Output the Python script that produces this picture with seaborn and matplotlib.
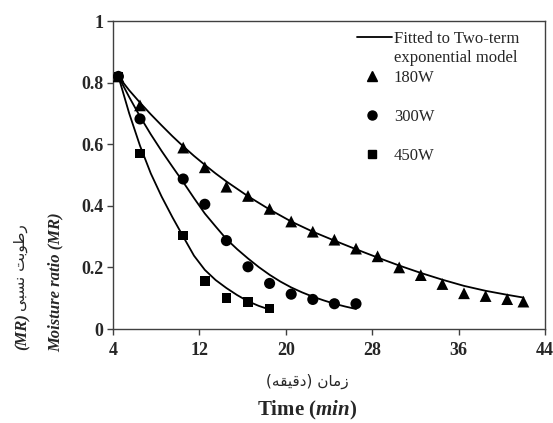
import matplotlib
matplotlib.use("Agg")
import matplotlib.pyplot as plt
from matplotlib.lines import Line2D
import pandas as pd
import seaborn as sns

t_180 = [4.5, 6.5, 10.5, 12.5, 14.5, 16.5, 18.5, 20.5, 22.5, 24.5, 26.5, 28.5,
         30.5, 32.5, 34.5, 36.5, 38.5, 40.5, 42]
mr_180 = [0.82, 0.726, 0.589, 0.525, 0.462, 0.432, 0.390, 0.349, 0.316, 0.290,
          0.261, 0.236, 0.200, 0.175, 0.146, 0.116, 0.107, 0.097, 0.089]
t_300 = [4.5, 6.5, 10.5, 12.5, 14.5, 16.5, 18.5, 20.5, 22.5, 24.5, 26.5]
mr_300 = [0.82, 0.682, 0.487, 0.405, 0.287, 0.202, 0.148, 0.113, 0.096, 0.082, 0.082]
t_450 = [4.5, 6.5, 10.5, 12.5, 14.5, 16.5, 18.5]
mr_450 = [0.82, 0.570, 0.304, 0.155, 0.100, 0.088, 0.067]

# fitted two-term exponential curves
tf_180 = [4.5, 5.5, 6.5, 7.5, 8.5, 9.5, 10.5, 11.5, 12.5, 13.5, 14.5, 16.5, 18.5,
          20.5, 22.5, 24.5, 26.5, 28.5, 30.5, 32.5, 34.5, 36.5, 38.5, 40.5, 42]
mf_180 = [0.82, 0.775, 0.735, 0.697, 0.661, 0.626, 0.593, 0.562, 0.533, 0.505,
          0.479, 0.431, 0.388, 0.349, 0.316, 0.287, 0.259, 0.232, 0.206, 0.182,
          0.160, 0.140, 0.124, 0.111, 0.102]
tf_300 = [4.5, 5.5, 6.5, 7.5, 8.5, 9.5, 10.5, 11.5, 12.5, 13.5, 14.5, 15.5, 16.5,
          17.5, 18.5, 19.5, 20.5, 21.5, 22.5, 23.5, 24.5, 25.5, 26.5]
mf_300 = [0.82, 0.753, 0.69, 0.632, 0.578, 0.527, 0.477, 0.425, 0.375, 0.333,
          0.292, 0.259, 0.229, 0.201, 0.176, 0.154, 0.135, 0.119, 0.105, 0.093,
          0.082, 0.073, 0.065]
tf_450 = [4.5, 5.5, 6.5, 7.5, 8.5, 9.5, 10.5, 11.5, 12.5, 13.5, 14.5, 15.5, 16.5,
          17.5, 18.5]
mf_450 = [0.82, 0.70, 0.595, 0.505, 0.43, 0.363, 0.30, 0.238, 0.192, 0.159, 0.133,
          0.11, 0.09, 0.075, 0.063]

powers = ["180W", "300W", "450W"]
xticks = [4, 12, 20, 28, 36, 44]
yticks = [0, 0.2, 0.4, 0.6, 0.8, 1]
ytick_labels = ["0", "0.2", "0.4", "0.6", "0.8", "1"]

# Persian labels, pre-shaped presentation forms in visual (left-to-right) order
fa_time = "(\ufeea\ufed8\ufef4\ufed7\ufea9) \ufee5\ufe8e\ufee3\ufeaf"          # زمان (دقیقه)
fa_mr = "\ufef0\ufe92\ufeb4\ufee7 \ufe96\ufe91\ufeee\ufec3\ufead"            # رطوبت نسبی

obs = pd.concat([
    pd.DataFrame({"t": t_180, "MR": mr_180, "power": "180W"}),
    pd.DataFrame({"t": t_300, "MR": mr_300, "power": "300W"}),
    pd.DataFrame({"t": t_450, "MR": mr_450, "power": "450W"}),
], ignore_index=True)
fit = pd.concat([
    pd.DataFrame({"t": tf_180, "MR": mf_180, "power": "180W"}),
    pd.DataFrame({"t": tf_300, "MR": mf_300, "power": "300W"}),
    pd.DataFrame({"t": tf_450, "MR": mf_450, "power": "450W"}),
], ignore_index=True)

sns.set_style("ticks")
plt.rcParams["font.family"] = "Liberation Serif"
plt.rcParams["mathtext.fontset"] = "custom"
plt.rcParams["mathtext.rm"] = "Liberation Serif:bold"
plt.rcParams["mathtext.it"] = "Liberation Serif:italic:bold"

fig = plt.figure(figsize=(5.53, 4.23), dpi=100)
ax = fig.add_axes([113 / 553, 94 / 423, 432 / 553, 308 / 423])

sns.lineplot(data=fit, x="t", y="MR", units="power", estimator=None, sort=False,
             color="black", linewidth=1.3, ax=ax)
markers = {"180W": "^", "300W": "o", "450W": "s"}
sns.scatterplot(data=obs, x="t", y="MR", style="power", markers=markers,
                size="power", sizes={"180W": 72, "300W": 64, "450W": 48},
                color="black", edgecolor="black", linewidth=0, legend=False,
                zorder=3, ax=ax)

ax.set_xlim(4, 44)
ax.set_ylim(0, 1)
ax.set_xticks(xticks, labels=[str(v) for v in xticks], fontsize=13, fontweight="bold")
ax.set_yticks(yticks, labels=ytick_labels, fontsize=13, fontweight="bold")
ax.tick_params(direction="out", length=4, width=1, color="#404040")
ax.tick_params(axis="x", pad=5)
ax.tick_params(axis="y", pad=3)
for s in ax.spines.values():
    s.set_visible(True)
    s.set_color("#404040")
    s.set_linewidth(1.0)
ax.set_xlabel("")
ax.set_ylabel("")

# legend: fitted line (two lines of text) then the markers with wider spacing
leg1 = ax.legend(
    handles=[Line2D([], [], color="black", lw=1.3), Line2D([], [], linestyle="none")],
    labels=["Fitted to Two-term", "exponential model"],
    loc="upper left", bbox_to_anchor=(0.565, 0.968), frameon=False, fontsize=12,
    handlelength=2.1, handletextpad=0.1, labelspacing=0.2, borderpad=0,
    borderaxespad=0)
ax.add_artist(leg1)
ax.legend(
    handles=[Line2D([], [], marker=markers[p], color="black", linestyle="none",
                    markersize=6.5 if p != "450W" else 5.5) for p in powers],
    labels=powers, loc="upper left", bbox_to_anchor=(0.565, 0.84), frameon=False,
    fontsize=12, handlelength=1.8, handletextpad=0.4, labelspacing=1.36,
    borderpad=0, borderaxespad=0)

# axis titles
fig.text(307 / 553, (423 - 381) / 423, fa_time, family="DejaVu Sans", fontsize=11,
         ha="center", va="center")
fig.text(307 / 553, (423 - 410) / 423, "Time ($\\mathit{min}$)", fontsize=15,
         fontweight="bold", ha="center", va="center")
fig.text(23 / 553, 73 / 423, "(MR)", fontsize=12, fontweight="bold", style="italic",
         rotation=90, ha="center", va="bottom")
fig.text(21 / 553, 112 / 423, fa_mr, family="DejaVu Sans", fontsize=11,
         rotation=90, ha="center", va="bottom")
fig.text(56 / 553, 141 / 423, "Moisture ratio (MR)", fontsize=12, fontweight="bold",
         style="italic", rotation=90, ha="center", va="center")

fig.savefig("out.png", dpi=100)
